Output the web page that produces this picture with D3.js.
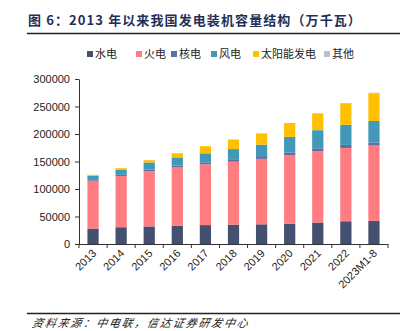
<!DOCTYPE html>
<html>
<head>
<meta charset="utf-8">
<script src="https://cdn.jsdelivr.net/npm/d3@7"></script>
<style>
  body { margin: 0; background: #fff; }
  svg { display: block; }
</style>
</head>
<body>
<div id="chart"></div>
<script>
"use strict";

// installed capacity, 万千瓦
let years = ["2013", "2014", "2015", "2016", "2017", "2018", "2019", "2020", "2021", "2022", "2023M1-8"];
let hydro   = [28044, 30486, 31954, 33207, 34377, 35259, 35804, 37016, 39092, 41350, 42000];
let thermal = [87009, 93232, 100554, 106094, 110495, 114408, 119055, 124517, 129678, 133239, 137000];
let nuclear = [1466, 2008, 2717, 3364, 3582, 4466, 4874, 4989, 5326, 5553, 5676];
let wind    = [7652, 9657, 13075, 14747, 16400, 18427, 20915, 28153, 32848, 36544, 39000];
let solar   = [1589, 2486, 4218, 7631, 13025, 17433, 20418, 25343, 30656, 39261, 50000];
let other   = [0, 0, 0, 0, 0, 0, 0, 0, 0, 400, 1500];

let seriesNames = ["水电", "火电", "核电", "风电", "太阳能发电", "其他"];
let seriesColors = ["#44506f", "#ff7c80", "#5b6ea6", "#4198b9", "#ffc000", "#b7c0d4"];
let yTicks = [0, 50000, 100000, 150000, 200000, 250000, 300000];

let width = 409, height = 331;
let plot = { left: 79, right: 388, top: 79, bottom: 244 };

let svg = d3.select("#chart").append("svg")
  .attr("width", width)
  .attr("height", height);

// title and rules
svg.append("text")
  .attr("x", 28)
  .attr("y", 25)
  .attr("font-family", "'Noto Sans CJK SC', sans-serif")
  .attr("font-weight", "bold")
  .attr("font-size", 13)
  .attr("letter-spacing", 1.1)
  .attr("fill", "#1f2f57")
  .text("图 6：2013 年以来我国发电装机容量结构（万千瓦）");

svg.append("line")
  .attr("x1", 27).attr("x2", 400)
  .attr("y1", 33.5).attr("y2", 33.5)
  .attr("stroke", "#222").attr("stroke-width", 1.5);

svg.append("line")
  .attr("x1", 27).attr("x2", 400)
  .attr("y1", 313.5).attr("y2", 313.5)
  .attr("stroke", "#222").attr("stroke-width", 1.5);

svg.append("text")
  .attr("x", 32)
  .attr("y", 327)
  .attr("font-family", "'Noto Sans CJK SC', sans-serif")
  .attr("font-style", "italic")
  .attr("font-size", 11)
  .attr("letter-spacing", 1.8)
  .attr("fill", "#222")
  .attr("transform", "skewX(-12) translate(69,0)")
  .text("资料来源：中电联，信达证券研发中心");

// scales
let x = d3.scaleBand()
  .domain(years)
  .range([plot.left, plot.right])
  .paddingInner(0.6)
  .paddingOuter(0.3);

let y = d3.scaleLinear()
  .domain([0, 300000])
  .range([plot.bottom, plot.top]);

let rows = years.map((yr, i) => ({
  year: yr,
  s0: hydro[i], s1: thermal[i], s2: nuclear[i], s3: wind[i], s4: solar[i], s5: other[i]
}));

let stack = d3.stack().keys(["s0", "s1", "s2", "s3", "s4", "s5"]);
let layers = stack(rows);

let barsG = svg.append("g").attr("class", "bars");
barsG.selectAll(".layer")
  .data(layers)
  .enter().append("g")
  .attr("class", "layer")
  .attr("fill", (d, i) => seriesColors[i])
  .selectAll("rect")
  .data(d => d)
  .enter().append("rect")
  .attr("x", d => x(d.data.year))
  .attr("width", x.bandwidth())
  .attr("y", d => y(d[1]))
  .attr("height", d => y(d[0]) - y(d[1]));

// y axis
let yAxis = d3.axisLeft(y)
  .tickValues(yTicks)
  .tickSize(4)
  .tickSizeOuter(0)
  .tickFormat(d3.format("d"));

let yG = svg.append("g")
  .attr("transform", "translate(" + plot.left + ",0)")
  .call(yAxis);

yG.selectAll("text")
  .attr("font-family", "'Liberation Sans', Arial, sans-serif")
  .attr("font-size", 11)
  .attr("fill", "#222")
  .attr("dx", "-2");

// x axis with ticks at category boundaries
let step = x.step();
let xG = svg.append("g");
xG.append("line")
  .attr("x1", plot.left).attr("x2", plot.right)
  .attr("y1", plot.bottom + 0.5).attr("y2", plot.bottom + 0.5)
  .attr("stroke", "#333");

xG.selectAll(".tick")
  .data(d3.range(years.length + 1))
  .enter().append("line")
  .attr("class", "tick")
  .attr("x1", i => plot.left + i * step)
  .attr("x2", i => plot.left + i * step)
  .attr("y1", plot.bottom)
  .attr("y2", plot.bottom + 4)
  .attr("stroke", "#333");

xG.selectAll(".label")
  .data(years)
  .enter().append("text")
  .attr("class", "label")
  .attr("text-anchor", "end")
  .attr("font-family", "'Liberation Sans', Arial, sans-serif")
  .attr("font-size", 11)
  .attr("fill", "#222")
  .attr("transform", d => "translate(" + (x(d) + x.bandwidth() / 2 + 4) + "," + (plot.bottom + 10) + ") rotate(-45)")
  .text(d => d);

yG.select(".domain").attr("stroke", "#333");
yG.selectAll(".tick line").attr("stroke", "#333");

// legend
let legendX = [87, 136, 171, 211, 253, 324];
let legend = svg.append("g").attr("class", "legend");
let items = legend.selectAll("g")
  .data(seriesNames)
  .enter().append("g")
  .attr("transform", (d, i) => "translate(" + legendX[i] + ",54)");

items.append("rect")
  .attr("x", 0).attr("y", -3)
  .attr("width", 6).attr("height", 6)
  .attr("fill", (d, i) => seriesColors[i]);

items.append("text")
  .attr("x", 8)
  .attr("y", 4)
  .attr("font-family", "'Noto Sans CJK SC', sans-serif")
  .attr("font-size", 11)
  .attr("fill", "#222")
  .text(d => d);
</script>
</body>
</html>
